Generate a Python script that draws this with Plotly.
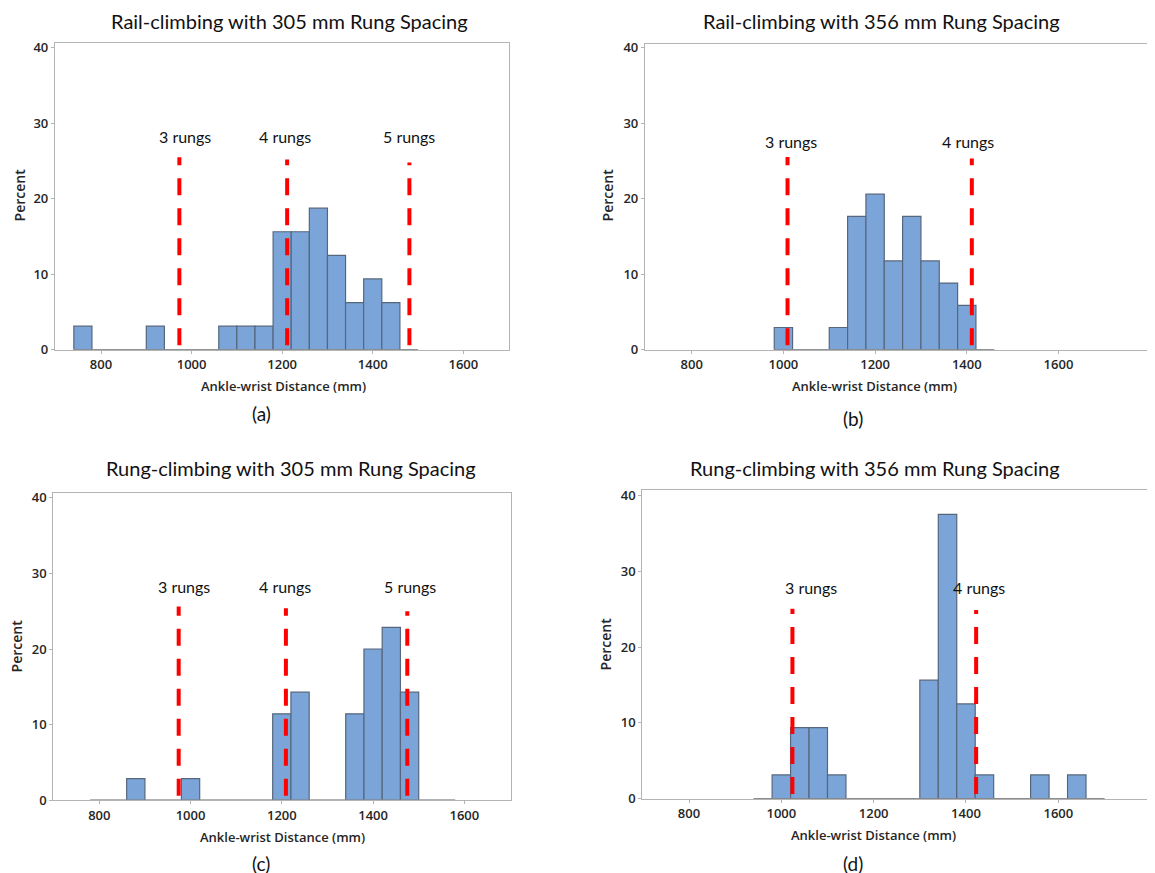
import plotly.graph_objects as go

W, H = 1155, 873
BIN_W = 40

# ---------------- data (percent per 40 mm bin, bin left edges) ----------------
a_bins = [740, 780, 820, 860, 900, 940, 980, 1020, 1060, 1100, 1140, 1180, 1220, 1260, 1300, 1340, 1380, 1420, 1460]
a_pct = [3.125, 0, 0, 0, 3.125, 0, 0, 0, 3.125, 3.125, 3.125, 15.625, 15.625, 18.75, 12.5, 6.25, 9.375, 6.25, 0]

b_bins = [980, 1020, 1060, 1100, 1140, 1180, 1220, 1260, 1300, 1340, 1380, 1420]
b_pct = [2.94, 0, 0, 2.94, 17.65, 20.59, 11.76, 17.65, 11.76, 8.82, 5.88, 0]

c_bins = [780, 820, 860, 900, 940, 980, 1020, 1060, 1100, 1140, 1180, 1220, 1260, 1300, 1340, 1380, 1420, 1460, 1500, 1540]
c_pct = [0, 0, 2.86, 0, 0, 2.86, 0, 0, 0, 0, 11.43, 14.29, 0, 0, 11.43, 20.0, 22.86, 14.29, 0, 0]

d_bins = [940, 980, 1020, 1060, 1100, 1140, 1180, 1220, 1260, 1300, 1340, 1380, 1420, 1460, 1500, 1540, 1580, 1620, 1660]
d_pct = [0, 3.125, 9.375, 9.375, 3.125, 0, 0, 0, 0, 15.625, 37.5, 12.5, 3.125, 0, 0, 3.125, 0, 3.125, 0]

a_rungs = [973, 1211, 1481]
b_rungs = [1009, 1411]
c_rungs = [974, 1209, 1475]
d_rungs = [1024, 1422]

a_rung_labels = ["3 rungs", "4 rungs", "5 rungs"]
b_rung_labels = ["3 rungs", "4 rungs"]
c_rung_labels = ["3 rungs", "4 rungs", "5 rungs"]
d_rung_labels = ["3 rungs", "4 rungs"]

titles = ["Rail-climbing with 305 mm Rung Spacing", "Rail-climbing with 356 mm Rung Spacing",
          "Rung-climbing with 305 mm Rung Spacing", "Rung-climbing with 356 mm Rung Spacing"]
panel_tags = ["(a)", "(b)", "(c)", "(d)"]
x_ticks = [800, 1000, 1200, 1400, 1600]
y_ticks = [0, 10, 20, 30, 40]

# ---------------- layout geometry (pixels, in reference-image coordinates) ----------------
panels = [
    dict(bins=a_bins, pct=a_pct, rungs=a_rungs, labels=a_rung_labels,
         xdom=(55, 509), ydom=(42.7, 349.3), xr=(698.4, 1700.9), yr=(0, 40.6),
         label_x=[986, 1207, 1480], label_y=28.3, line_top=[25.5, 25.2, 24.8],
         title_xy=(289, 21), xt_xy=(283, 386), yt_xy=(19, 195), tag_xy=(261, 413), mirror_y=True),
    dict(bins=b_bins, pct=b_pct, rungs=b_rungs, labels=b_rung_labels,
         xdom=(645, 1163), ydom=(43.3, 349.3), xr=(698.1, 1828), yr=(0, 40.5),
         label_x=[1017, 1402], label_y=27.6, line_top=[25.5, 25.3],
         title_xy=(881, 21), xt_xy=(874, 386), yt_xy=(607, 195), tag_xy=(853, 418), mirror_y=False),
    dict(bins=c_bins, pct=c_pct, rungs=c_rungs, labels=c_rung_labels,
         xdom=(53.3, 511), ydom=(492.7, 800), xr=(699.2, 1702.3), yr=(0, 40.6),
         label_x=[986, 1207, 1480], label_y=28.3, line_top=[25.6, 25.4, 25.0],
         title_xy=(291, 468), xt_xy=(282, 837), yt_xy=(16, 646), tag_xy=(261, 863), mirror_y=True),
    dict(bins=d_bins, pct=d_pct, rungs=d_rungs, labels=d_rung_labels,
         xdom=(642.3, 1163), ydom=(489.3, 798.3), xr=(698.8, 1826.8), yr=(0, 40.75),
         label_x=[1064, 1429], label_y=27.8, line_top=[25.05, 24.9],
         title_xy=(875, 468), xt_xy=(873, 835), yt_xy=(605, 643), tag_xy=(853, 863), mirror_y=False),
]

# page placement of the plot inside the browser page (measured)
OFF_X = 8
OFF_Y, SCALE_Y = 13.5, 0.983

BAR_FILL = "#7BA5D9"
BAR_LINE = "#56677D"
AXIS_COL = "#B4B4B4"
TEXT_COL = "#262626"
TICK_FONT = dict(family="Open Sans", size=13, color=TEXT_COL, weight=600)
LABEL_FONT = "Lato"


def px(x):
    return min(max((x - OFF_X) / W, 0), 1)


def py(y):
    return min(max(1 - ((y - OFF_Y) / SCALE_Y) / H, 0), 1)


fig = go.Figure()
layout = dict(
    width=W, height=H, margin=dict(l=0, r=0, t=0, b=0),
    paper_bgcolor="white", plot_bgcolor="white", showlegend=False,
    annotations=[],
)

for i, p in enumerate(panels):
    n = "" if i == 0 else str(i + 1)
    xa, ya = "x" + n, "y" + n
    # bars
    fig.add_trace(go.Bar(
        x=p["bins"], y=p["pct"], width=BIN_W, offset=0,
        marker=dict(color=BAR_FILL, line=dict(color=BAR_LINE, width=1.2)),
        xaxis=xa, yaxis=ya, hoverinfo="x+y"))
    # baseline of the histogram's empty bins
    fig.add_trace(go.Scatter(
        x=[p["bins"][0], p["bins"][-1] + BIN_W], y=[0, 0], mode="lines",
        line=dict(color="#8C8C8C", width=1.5), xaxis=xa, yaxis=ya, hoverinfo="skip"))
    # rung lines
    for r, top in zip(p["rungs"], p["line_top"]):
        fig.add_trace(go.Scatter(
            x=[r, r], y=[0.6, top], mode="lines",
            line=dict(color="#FF0000", width=4, dash="17px,13px"),
            xaxis=xa, yaxis=ya, hoverinfo="skip"))
    for lx, lab in zip(p["label_x"], p["labels"]):
        layout["annotations"].append(dict(
            x=lx, y=p["label_y"], xref=xa, yref=ya, text=lab, showarrow=False,
            font=dict(family=LABEL_FONT, size=16, color="#111111"),
            xanchor="center", yanchor="middle"))

    layout["xaxis" + n] = dict(
        domain=[px(p["xdom"][0]), px(p["xdom"][1])], range=list(p["xr"]), anchor=ya,
        tickvals=x_ticks, ticks="outside", ticklen=3, tickcolor=AXIS_COL,
        showline=True, linecolor=AXIS_COL, linewidth=1.2, mirror=True,
        showgrid=False, zeroline=False, tickfont=TICK_FONT, fixedrange=True)
    layout["yaxis" + n] = dict(
        domain=[py(p["ydom"][1]), py(p["ydom"][0])], range=list(p["yr"]), anchor=xa,
        tickvals=y_ticks, ticks="outside", ticklen=3, tickcolor=AXIS_COL,
        showline=True, linecolor=AXIS_COL, linewidth=1.2, mirror=p["mirror_y"],
        showgrid=False, zeroline=False, tickfont=TICK_FONT, fixedrange=True)

    # titles and axis titles
    tx, ty = p["title_xy"]
    layout["annotations"].append(dict(
        x=px(tx), y=py(ty), xref="paper", yref="paper", text=titles[i], showarrow=False,
        font=dict(family=LABEL_FONT, size=20, color="#111111"), xanchor="center", yanchor="middle"))
    ax_, ay_ = p["xt_xy"]
    layout["annotations"].append(dict(
        x=px(ax_), y=py(ay_), xref="paper", yref="paper", text="Ankle-wrist Distance (mm)",
        showarrow=False, font=dict(family="Open Sans", size=13, color=TEXT_COL, weight=600),
        xanchor="center", yanchor="middle"))
    yx, yy = p["yt_xy"]
    layout["annotations"].append(dict(
        x=px(yx), y=py(yy), xref="paper", yref="paper", text="Percent", textangle=-90,
        showarrow=False, font=dict(family="Open Sans", size=14, color=TEXT_COL, weight=600),
        xanchor="center", yanchor="middle"))
    gx, gy = p["tag_xy"]
    layout["annotations"].append(dict(
        x=px(gx), y=py(gy), xref="paper", yref="paper", text=panel_tags[i], showarrow=False,
        font=dict(family=LABEL_FONT, size=19, color="#111111"), xanchor="center", yanchor="middle"))

fig.update_layout(**layout)
fig.write_html("out.html")
